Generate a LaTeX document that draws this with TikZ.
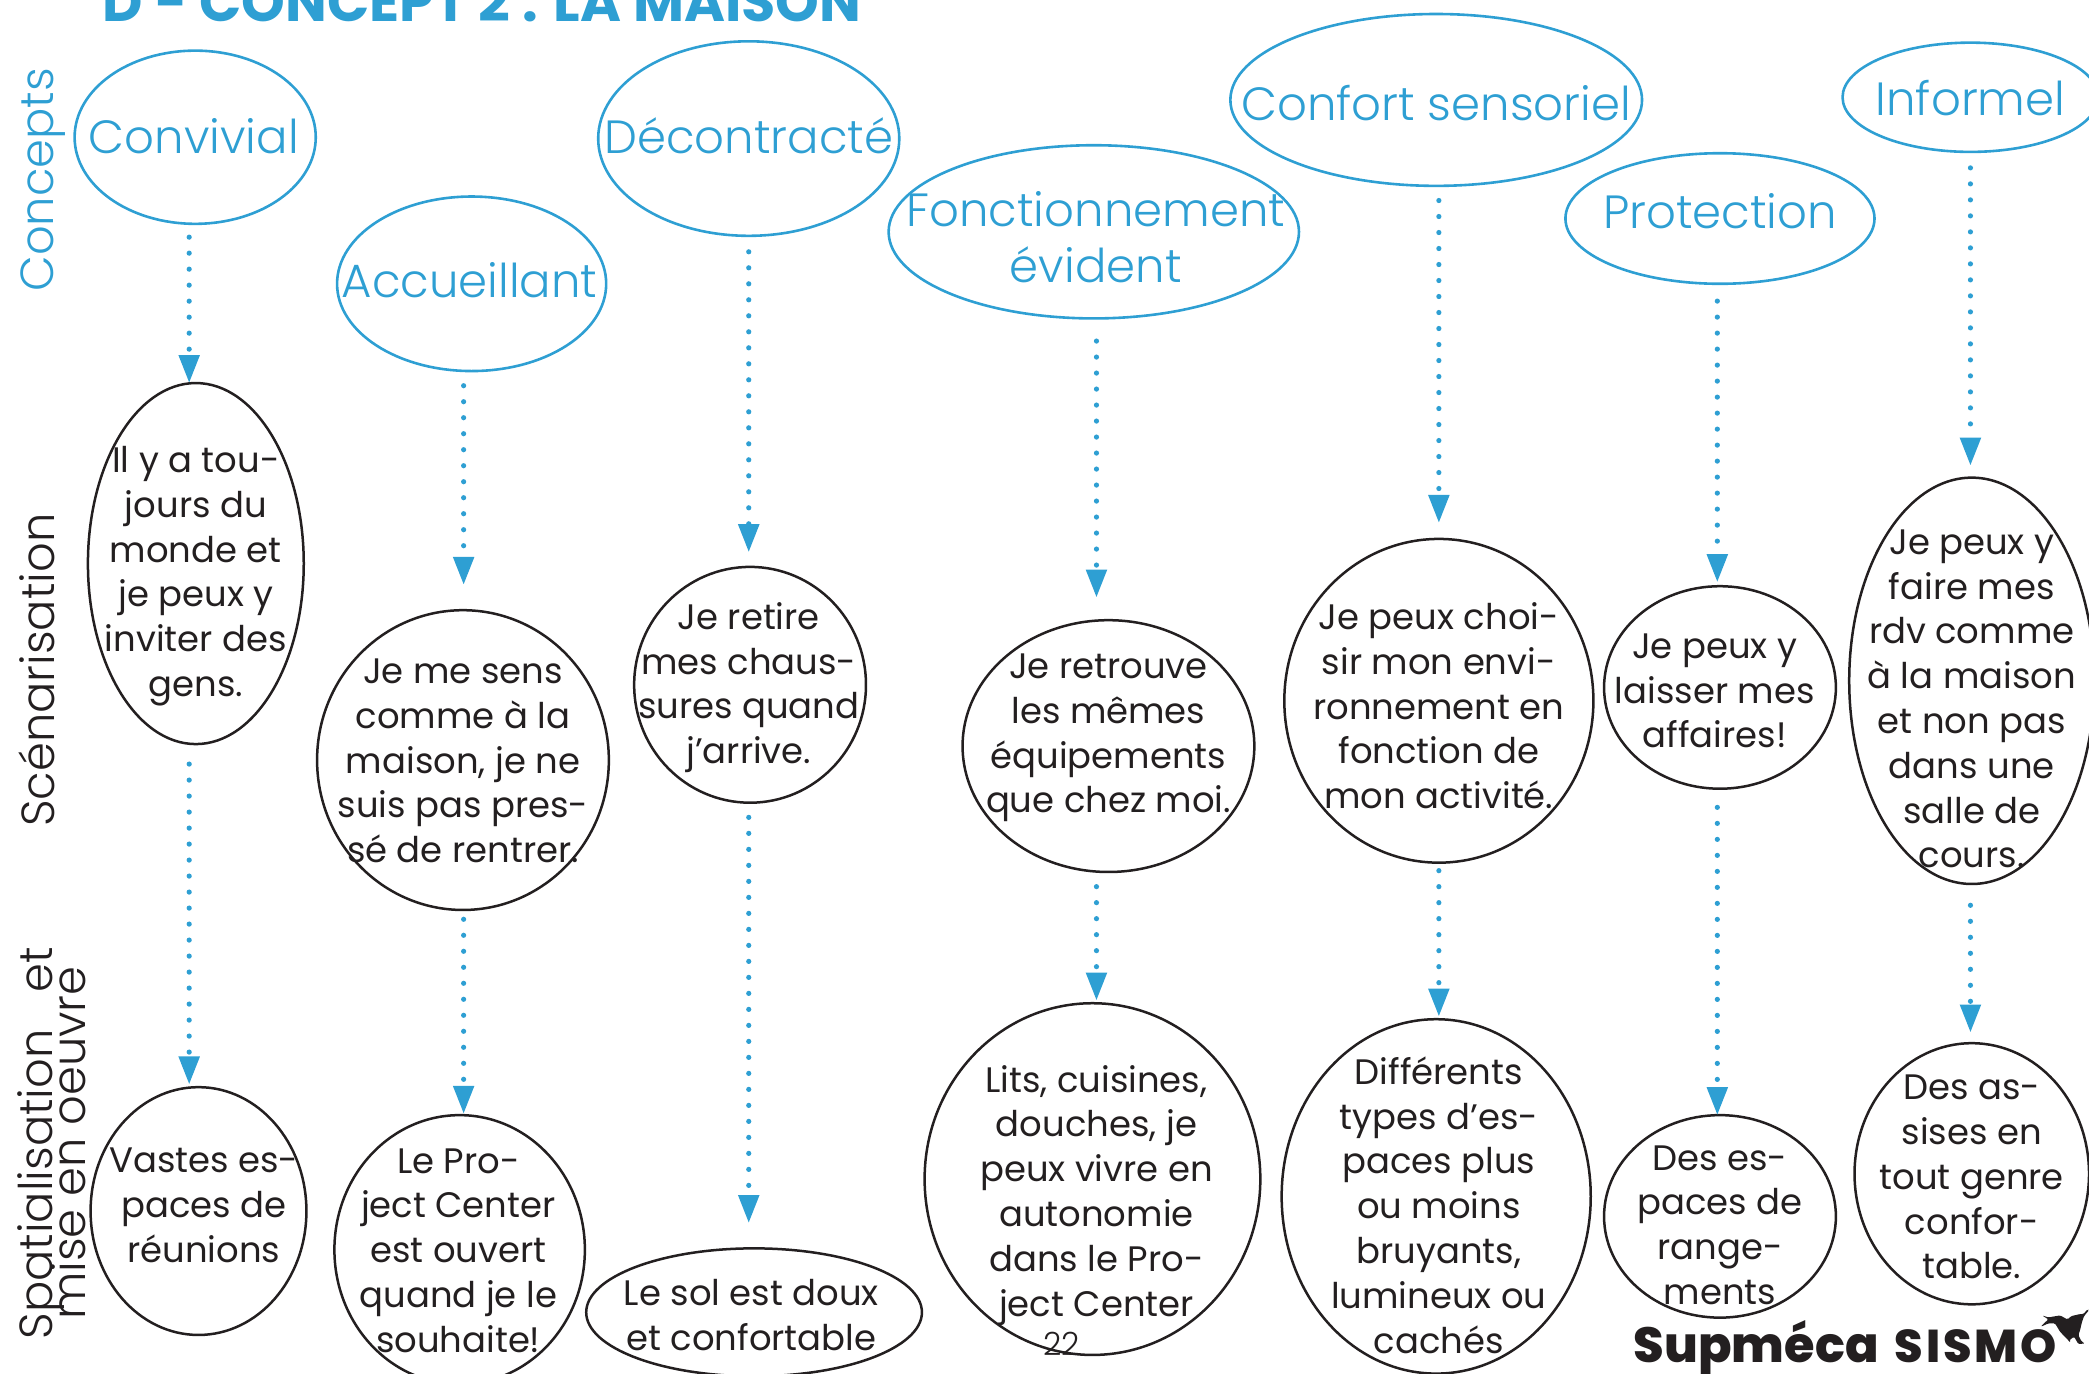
\documentclass[tikz,border=0pt]{standalone}
\usepackage{fontspec}
\setmainfont{Poppins}
\newfontfamily\thinfont{Poppins Light}
\newfontfamily\heavyfont{Poppins ExtraBold}
\usetikzlibrary{arrows.meta,shapes.geometric}
\definecolor{sketchblue}{HTML}{2E9FD3}
\definecolor{sketchink}{HTML}{231F20}
\newlength\px
\setlength\px{.6661pt}
\newcommand{\intext}[3]{\makebox[0pt]{\hspace{#1\px}\hspace{#1\px}\raisebox{\dimexpr-#2\px-3\px}[0pt][0pt]{\vbox to 0pt{\vss\hbox{\begin{tabular}{@{}c@{}}#3\end{tabular}}\vss}}}}
\begin{document}
\begin{tikzpicture}[x=.6661pt,y=-.6661pt,
        concept node/.style={ellipse,draw=sketchblue,line width=1.3pt,inner sep=0pt,outer sep=0pt,
            text=sketchblue,font=\thinfont\fontsize{23.3}{28}\selectfont},
        scene node/.style={ellipse,draw=sketchink,line width=1.25pt,inner sep=0pt,outer sep=0pt,
            text=sketchink,font=\fontsize{17.7}{22.4}\selectfont},
        flow/.style={draw=sketchblue,line width=2.6pt,line cap=round,dash pattern=on 0pt off 8pt,
            -{Triangle[width=10pt,length=14pt]},sketchblue}]
    \clip (0,0) rectangle (1568,1030.6);
    \useasboundingbox (0,0) rectangle (1568,1030.6);

    \node[text=sketchblue,anchor=base west,inner sep=0pt,font=\bfseries\fontsize{27.8}{32}\selectfont] (title) at (77,16) {D - CONCEPT 2 : LA MAISON};

    \node[text=sketchblue,rotate=90,font=\thinfont\fontsize{23.2}{28}\selectfont] (concepts) at (32,135) {Concepts};
    \node[text=sketchink,rotate=90,font=\thinfont\fontsize{23.2}{28}\selectfont] (scenario) at (28,503) {Scénarisation};
    \node[text=sketchink,rotate=90,align=center,font=\thinfont\fontsize{23.2}{28}\selectfont] (space) at (39,858) {Spatialisation\hspace{.8em}et\\[-11.5pt]mise en oeuvre};

    \node[concept node,minimum width=181*\px,minimum height=130*\px] (convivial) at (146.5,103) {\intext{-1}{1}{Convivial}};
    \node[concept node,minimum width=202*\px,minimum height=131*\px] (accueillant) at (354,213) {\intext{-1.5}{-1}{Accueillant}};
    \node[concept node,minimum width=226*\px,minimum height=146*\px] (decontracte) at (562,104) {\intext{0}{0}{Décontracté}};
    \node[concept node,minimum width=308*\px,minimum height=130*\px] (fonction) at (821,174) {\intext{1.5}{5.5}{Fonctionnement\\évident}};
    \node[concept node,minimum width=309*\px,minimum height=129*\px] (confort) at (1078,75) {\intext{0}{4}{Confort sensoriel}};
    \node[concept node,minimum width=232*\px,minimum height=98*\px] (protection) at (1291,164) {\intext{0}{-4}{Protection}};
    \node[concept node,minimum width=192*\px,minimum height=82*\px] (informel) at (1479,73) {\intext{0}{2}{Informel}};

    \node[scene node,minimum width=162*\px,minimum height=271*\px] (toujours) at (147,423) {\intext{0}{6}{Il y a tou-\\jours du\\monde et\\je peux y\\inviter des\\gens.}};
    \node[scene node,minimum width=219*\px,minimum height=225*\px] (maison) at (347.5,570.5) {\intext{0}{0}{Je me sens\\comme à la\\maison, je ne\\suis pas pres-\\sé de rentrer.}};
    \node[scene node,minimum width=174*\px,minimum height=177*\px] (chaussures) at (563,514) {\intext{-1}{-1}{Je retire\\mes chaus-\\sures quand\\j’arrive.}};
    \node[scene node,minimum width=219*\px,minimum height=189*\px] (retrouve) at (832,560) {\intext{0}{-10}{Je retrouve\\les mêmes\\équipements\\que chez moi.}};
    \node[scene node,minimum width=232*\px,minimum height=243*\px] (choisir) at (1080,526) {\intext{0}{4}{Je peux choi-\\sir mon envi-\\ronnement en\\fonction de\\mon activité.}};
    \node[scene node,minimum width=174*\px,minimum height=152*\px] (affaires) at (1291,516) {\intext{-4}{2}{Je peux y\\laisser mes\\affaires!}};
    \node[scene node,minimum width=184*\px,minimum height=305*\px] (rdv) at (1480,511) {\intext{0}{13}{Je peux y\\faire mes\\rdv comme\\à la maison\\et non pas\\dans une\\salle de\\cours.}};

    \node[scene node,minimum width=162*\px,minimum height=186*\px] (reunions) at (149,909) {\intext{4}{-5}{Vastes es-\\paces de\\réunions}};
    \node[scene node,minimum width=188*\px,minimum height=202*\px] (center) at (345,938) {\intext{-1}{0}{Le Pro-\\ject Center\\est ouvert\\quand je le\\souhaite!}};
    \node[scene node,minimum width=252*\px,minimum height=96*\px] (sol) at (566,985) {\intext{-2}{2}{Le sol est doux\\et confortable}};
    \node[scene node,minimum width=252*\px,minimum height=264*\px] (lits) at (820,885) {\intext{3}{9}{Lits, cuisines,\\douches, je\\peux vivre en\\autonomie\\dans le Pro-\\ject Center}};
    \node[scene node,minimum width=232*\px,minimum height=266*\px] (types) at (1078,898) {\intext{2}{7}{Différents\\types d’es-\\paces plus\\ou moins\\bruyants,\\lumineux ou\\cachés}};
    \node[scene node,minimum width=174*\px,minimum height=152*\px] (rangements) at (1291,913) {\intext{0}{6}{Des es-\\paces de\\range-\\ments}};
    \node[scene node,minimum width=176*\px,minimum height=196*\px] (assises) at (1480,881) {\intext{0}{2}{Des as-\\sises en\\tout genre\\confor-\\table.}};

    \foreach \from/\to/\xpos/\gapa/\gapb in {
        convivial/toujours/142/10/0, toujours/reunions/142/15/2,
        accueillant/maison/348/11/19, maison/center/348/7/1,
        decontracte/chaussures/562/12/11, chaussures/sol/562/11/19,
        fonction/retrouve/823/17/17, retrouve/lits/823/11/2,
        confort/choisir/1080/11/12, choisir/types/1080/6/2,
        protection/affaires/1289/13/3, affaires/rangements/1289/14/0,
        informel/rdv/1479/12/9, rdv/assises/1479/16/8}
        \draw[flow,shorten <=\gapa*\px,shorten >=\gapb*\px] (\xpos,0 |- \from.south) -- (\xpos,0 |- \to.north);

    \node[text=sketchink,font=\thinfont\fontsize{16}{20}\selectfont] (page) at (797,1009) {22};

    \node[text=sketchink,anchor=base west,inner sep=0pt,font=\heavyfont\fontsize{24.7}{28}\selectfont] (supmeca) at (1226,1023) {Supméca};
    \node[text=sketchink,anchor=base west,inner sep=0pt,font=\heavyfont\fontsize{23}{25}\selectfont\addfontfeature{LetterSpace=6}] (sismo) at (1422,1023) {SISMO};

    \begin{scope}[shift={(1486.2,968.3)},x=.1667pt,y=-.1667pt]
    \fill[sketchink,rounded corners=.6pt] (186,76) -- (205,82) -- (228,78) -- (240,76) -- (262,88) -- (274,78)
        -- (300,72) -- (310,72) -- (322,58) -- (327,60) -- (312,78) -- (306,95) -- (300,120) -- (295,135)
        -- (305,155) -- (315,160) -- (295,162) -- (282,140) -- (268,150) -- (272,158) -- (262,148)
        -- (240,125) -- (225,100) -- (205,100) -- (182,110) -- (200,92) -- (205,88) -- cycle;
    \end{scope}
\end{tikzpicture}
\end{document}
